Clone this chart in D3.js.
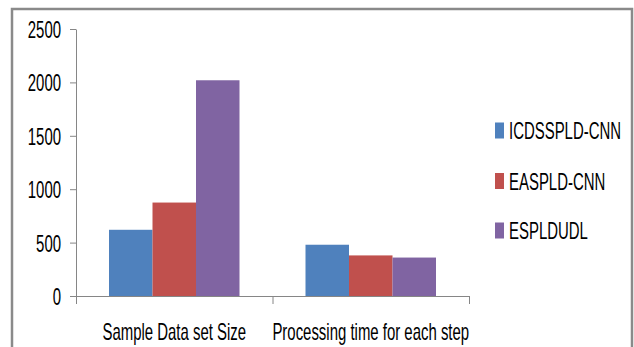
<!DOCTYPE html>
<html>
<head>
<meta charset="utf-8">
<script src="https://cdn.jsdelivr.net/npm/d3@7"></script>
<style>
  html, body { margin: 0; padding: 0; background: #fff; }
  text { font-family: "Liberation Sans", Arial, sans-serif; fill: #000; }
</style>
</head>
<body>
<svg id="chart" width="634" height="347"></svg>
<script>
// Categories, series and tick labels
const categories = ["Sample Data set Size", "Processing time for each step"];
const seriesNames = ["ICDSSPLD-CNN", "EASPLD-CNN", "ESPLDUDL"];
const seriesColors = ["#4F81BD", "#C0504D", "#8064A2"];
const icdsspldValues = [620, 480];
const easpldValues = [875, 380];
const espldudlValues = [2020, 360];
const yTicks = [0, 500, 1000, 1500, 2000, 2500];

const seriesValues = [icdsspldValues, easpldValues, espldudlValues];

const svg = d3.select("#chart");
const fontSize = 23;
const squeeze = 0.65;   // condensed lettering

// Outer frame
svg.append("path")
  .attr("d", "M12,347 V9 H632 V347")
  .attr("fill", "none")
  .attr("stroke", "#8a8a8a")
  .attr("stroke-width", 2.5);

const plot = { left: 76, right: 469, top: 29, bottom: 296 };

const x0 = d3.scaleBand()
  .domain(categories)
  .range([plot.left, plot.right]);

// 33px margin either side of each cluster of bars
const x1 = d3.scaleBand()
  .domain(d3.range(seriesNames.length))
  .range([33, x0.bandwidth() - 33]);

const y = d3.scaleLinear().domain([0, 2500]).range([plot.bottom, plot.top]);

// Bars
const groups = svg.append("g").selectAll("g")
  .data(categories)
  .join("g")
  .attr("transform", d => `translate(${x0(d)},0)`);

groups.selectAll("rect")
  .data((d, i) => seriesValues.map((vals, s) => ({ s, v: vals[i] })))
  .join("rect")
  .attr("x", d => x1(d.s))
  .attr("width", x1.bandwidth())
  .attr("y", d => y(d.v))
  .attr("height", d => y(0) - y(d.v))
  .attr("fill", d => seriesColors[d.s]);

// Y axis
const yAxis = svg.append("g")
  .attr("transform", `translate(${plot.left},0)`)
  .call(d3.axisLeft(y).tickValues(yTicks).tickFormat(d3.format("d"))
    .tickSize(6).tickSizeOuter(0).tickPadding(9));
yAxis.select(".domain").attr("stroke", "#868686");
yAxis.selectAll(".tick line").attr("stroke", "#868686");
yAxis.selectAll(".tick text")
  .attr("font-size", fontSize)
  .attr("font-family", null)
  .attr("fill", "#000")
  .attr("dy", null)
  .attr("transform", `translate(-15,8.5) scale(${squeeze},1)`)
  .attr("x", 0);

// X axis line with category boundary ticks
const xAxisG = svg.append("g");
xAxisG.append("line")
  .attr("x1", plot.left).attr("x2", plot.right)
  .attr("y1", y(0) + 0.5).attr("y2", y(0) + 0.5)
  .attr("stroke", "#868686");
const boundaries = categories.map(c => x0(c)).concat([plot.right]);
xAxisG.selectAll("line.bound")
  .data(boundaries)
  .join("line")
  .attr("class", "bound")
  .attr("x1", d => d + 0.5).attr("x2", d => d + 0.5)
  .attr("y1", y(0)).attr("y2", y(0) + 8)
  .attr("stroke", "#868686");

// Category labels
svg.append("g").selectAll("text")
  .data(categories)
  .join("text")
  .attr("text-anchor", "middle")
  .attr("font-size", fontSize)
  .attr("transform", d => `translate(${x0(d) + x0.bandwidth() / 2},339.5) scale(${squeeze},1)`)
  .text(d => d);

// Legend
const legend = svg.append("g").attr("transform", "translate(495,0)");
const legendY = [130.5, 181, 230.5];
const items = legend.selectAll("g")
  .data(seriesNames)
  .join("g")
  .attr("transform", (d, i) => `translate(0,${legendY[i]})`);
items.append("rect")
  .attr("x", 0).attr("y", -8)
  .attr("width", 9).attr("height", 16)
  .attr("fill", (d, i) => seriesColors[i]);
items.append("text")
  .attr("font-size", fontSize)
  .attr("transform", `translate(14,8.5) scale(${squeeze},1)`)
  .text(d => d);
</script>
</body>
</html>
